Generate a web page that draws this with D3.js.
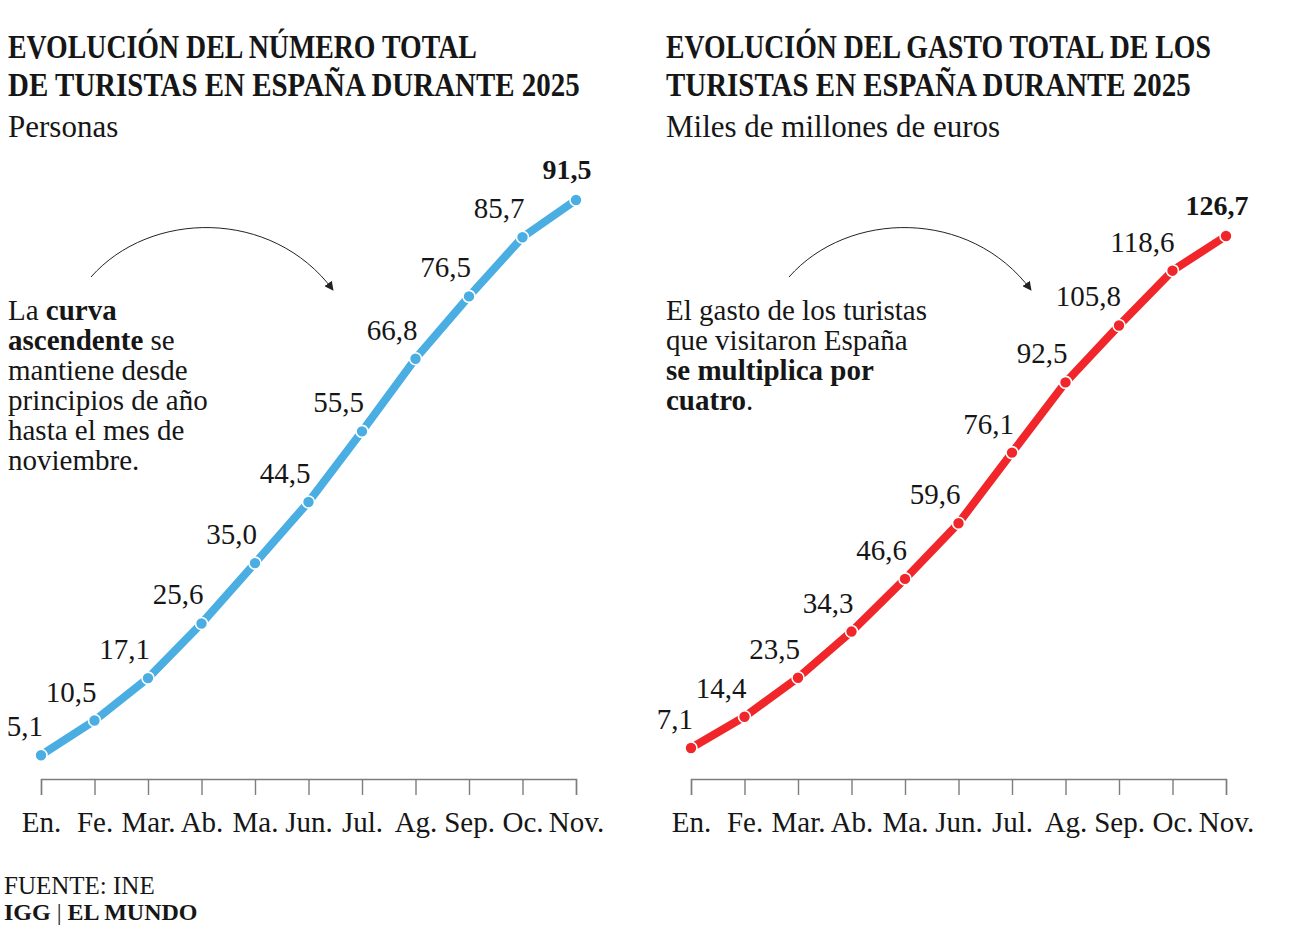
<html>
<head>
<script src="https://d3js.org/d3.v7.min.js"></script>
<style>
  body { margin: 0; background: #fff; }
  text { font-family: "Liberation Serif", "DejaVu Serif", serif; fill: #161616; }
</style>
</head>
<body>
<svg id="chart" width="1292" height="934"></svg>
<script>
// data
const months = ["En.", "Fe.", "Mar.", "Ab.", "Ma.", "Jun.", "Jul.", "Ag.", "Sep.", "Oc.", "Nov."];
const turistas = [5.1, 10.5, 17.1, 25.6, 35.0, 44.5, 55.5, 66.8, 76.5, 85.7, 91.5];
const gasto = [7.1, 14.4, 23.5, 34.3, 46.6, 59.6, 76.1, 92.5, 105.8, 118.6, 126.7];

const titleLeft = ["EVOLUCIÓN DEL NÚMERO TOTAL", "DE TURISTAS EN ESPAÑA DURANTE 2025"];
const titleRight = ["EVOLUCIÓN DEL GASTO TOTAL DE LOS", "TURISTAS EN ESPAÑA DURANTE 2025"];

const fmt = v => d3.format(".1f")(v).replace(".", ",");

let svg = d3.select("svg#chart");

// ox = panel offset, tx = text inset inside the panel, arrowDx = shift of the arrow
function panel(ox, tx, arrowDx, values, color, yRange, title, titleWidths, subtitle, note) {
    let g = svg.append("g").attr("transform", "translate(" + ox + ",0)");

    let xScale = d3.scalePoint().domain(months).range([41, 576]);
    let yScale = d3.scaleLinear().domain([0, d3.max(values)]).range(yRange);

    // titles: bold, squeezed horizontally to look like the condensed face
    title.forEach((t, i) => {
        let txt = g.append("text")
            .style("font-size", "34px").style("font-weight", "bold")
            .text(t);
        let w = txt.node().getComputedTextLength();
        txt.attr("transform", "translate(" + tx + "," + (58 + i * 38) + ") scale(" + (titleWidths[i] / w) + ",1)");
    });
    g.append("text").attr("x", tx).attr("y", 137)
        .style("font-size", "31px").text(subtitle);

    // x axis
    let axis = d3.axisBottom(xScale).tickSize(16).tickSizeOuter(16);
    let ax = g.append("g").attr("transform", "translate(0,779)").call(axis);
    ax.selectAll("path, line").attr("stroke", "#7d7d7d").attr("stroke-width", 1.4);
    ax.selectAll("text")
        .attr("y", 53).attr("dy", 0)
        .style("font-family", "Liberation Serif").style("font-size", "29px")
        .attr("fill", "#161616");

    // line
    let line = d3.line()
        .x((d, i) => xScale(months[i]))
        .y(d => yScale(d));
    g.append("path").datum(values)
        .attr("d", line)
        .attr("fill", "none")
        .attr("stroke", color)
        .attr("stroke-width", 8)
        .attr("stroke-linejoin", "round");

    values.forEach((d, i) => {
        g.append("circle")
            .attr("cx", xScale(months[i]))
            .attr("cy", yScale(d))
            .attr("r", 6)
            .attr("fill", color)
            .attr("stroke", "#fff")
            .attr("stroke-width", 1.6);
    });

    // value labels
    values.forEach((d, i) => {
        let last = i === values.length - 1;
        g.append("text")
            .attr("x", xScale(months[i]) + (last ? -9 : 2))
            .attr("y", yScale(d) - (last ? 21 : 19))
            .attr("text-anchor", last ? "middle" : "end")
            .style("font-size", last ? "28px" : "29px")
            .style("font-weight", last ? "bold" : "normal")
            .text(fmt(d));
    });

    // annotation text
    note.forEach((parts, i) => {
        let t = g.append("text").attr("x", tx).attr("y", 320 + i * 30).style("font-size", "29px");
        parts.forEach(p => {
            t.append("tspan").style("font-weight", p[1] ? "bold" : "normal").text(p[0]);
        });
    });

    // arrow
    g.append("path")
        .attr("transform", "translate(" + arrowDx + ",0)")
        .attr("d", "M91,277 C150,210 272,208 333,290")
        .attr("fill", "none")
        .attr("stroke", "#222")
        .attr("stroke-width", 1)
        .attr("marker-end", "url(#arrow)");
}

svg.append("defs").append("marker")
    .attr("id", "arrow")
    .attr("viewBox", "0 0 10 10")
    .attr("refX", 9).attr("refY", 5)
    .attr("markerWidth", 9).attr("markerHeight", 9)
    .attr("markerUnits", "userSpaceOnUse")
    .attr("orient", "auto")
    .append("path").attr("d", "M0,0 L10,5 L0,10 z").attr("fill", "#222");

panel(0, 8, 0, turistas, "#4aaee2", [788, 200], titleLeft, [469, 572], "Personas", [
    [["La ", false], ["curva", true]],
    [["ascendente", true], [" se", false]],
    [["mantiene desde", false]],
    [["principios de año", false]],
    [["hasta el mes de", false]],
    [["noviembre.", false]]
]);

panel(650, 16, 48, gasto, "#f0262a", [778.4, 236], titleRight, [545, 525], "Miles de millones de euros", [
    [["El gasto de los turistas", false]],
    [["que visitaron España", false]],
    [["se multiplica por", true]],
    [["cuatro", true], [".", false]]
]);

// footer
svg.append("text").attr("x", 4).attr("y", 894).style("font-size", "25px").text("FUENTE: INE");
let f = svg.append("text").attr("x", 4).attr("y", 920).style("font-size", "24px");
f.append("tspan").style("font-weight", "bold").text("IGG");
f.append("tspan").text(" | ");
f.append("tspan").style("font-weight", "bold").text("EL MUNDO");
</script>
</body>
</html>
